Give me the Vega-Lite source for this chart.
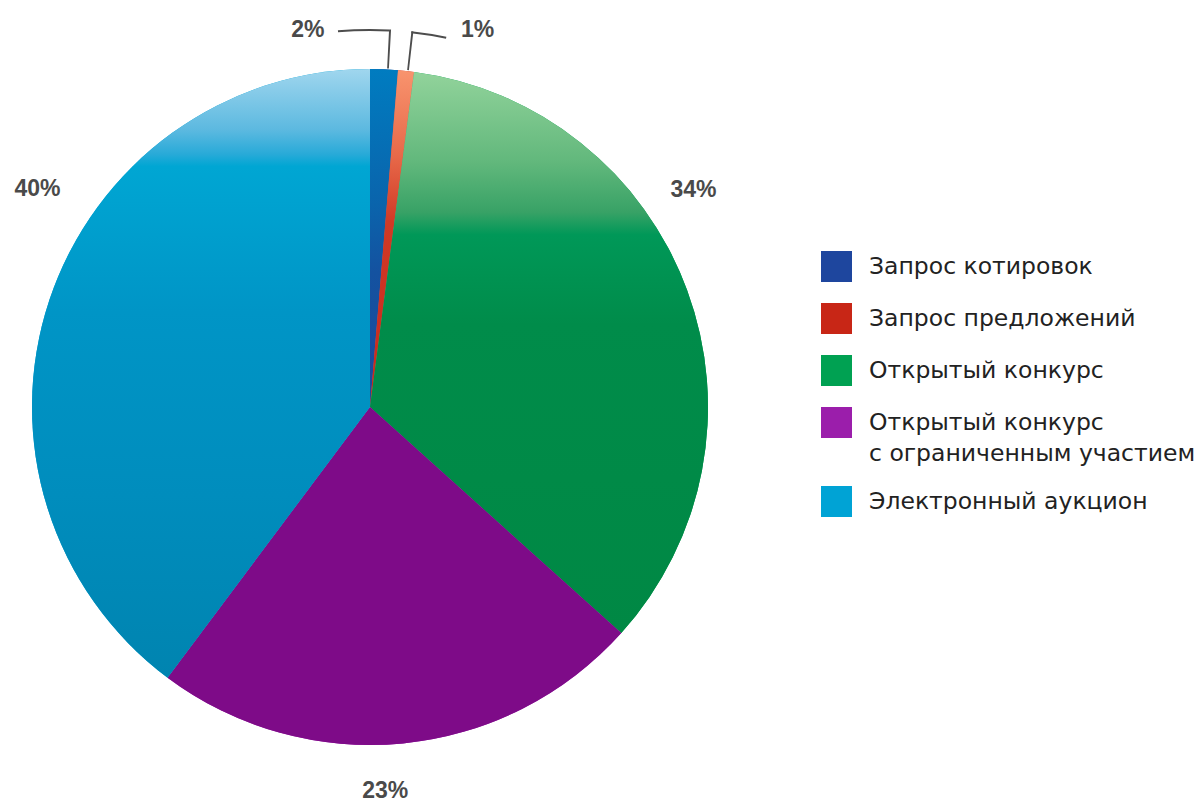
{
  "$schema": "https://vega.github.io/schema/vega-lite/v6.json",
  "width": 740,
  "height": 790,
  "padding": {"top": 12, "left": 0, "right": 0, "bottom": 0},
  "autosize": {"type": "pad"},
  "background": "white",
  "view": {"stroke": null},
  "config": {"style": {"guide-label": {"lineHeight": 31}}},
  "data": {
    "values": [
      {"cat": "Запрос котировок", "value": 1.32, "label": "2%"},
      {"cat": "Запрос предложений", "value": 0.76, "label": "1%"},
      {"cat": "Открытый конкурс", "value": 34.58, "label": "34%"},
      {"cat": "Открытый конкурс с ограниченным участием", "value": 23.56, "label": "23%"},
      {"cat": "Электронный аукцион", "value": 39.78, "label": "40%"}
    ]
  },
  "transform": [
    {"stack": "value", "groupby": [], "as": ["v0", "v1"], "sort": [{"field": "cat", "order": "ascending"}]}
  ],
  "layer": [
    {
      "mark": {"type": "arc", "radius": 338},
      "encoding": {
        "theta": {"field": "v0", "type": "quantitative"},
        "theta2": {"field": "v1"},
        "color": {
          "field": "cat",
          "type": "nominal",
          "scale": {
            "domain": ["Запрос котировок", "Запрос предложений", "Открытый конкурс", "Открытый конкурс с ограниченным участием", "Электронный аукцион"],
            "range": ["#1e469e", "#c82616", "#00a152", "#9b1eab", "#00a3d5"]
          },
          "legend": {
            "title": null,
            "orient": "none",
            "legendX": 821,
            "legendY": 239,
            "symbolType": "square",
            "symbolSize": 961,
            "symbolStrokeWidth": 0,
            "labelFont": "DejaVu Sans",
            "labelFontSize": 23.5,
            "labelColor": "#222222",
            "labelOffset": 17,
            "rowPadding": 21,
            "labelLimit": 400,
            "labelExpr": "datum.label == 'Открытый конкурс с ограниченным участием' ? ['Открытый конкурс', 'с ограниченным участием'] : datum.label"
          }
        }
      }
    },
    {
      "transform": [{"filter": {"field": "cat", "equal": "Запрос котировок"}}],
      "mark": {"type": "arc", "radius": 338, "color": {"gradient": "linear", "x1": 0, "y1": 0, "x2": 0, "y2": 1, "stops": [
        {"offset": 0, "color": "#007cc0"}, {"offset": 0.4, "color": "#0a64ac"}, {"offset": 0.6, "color": "#1452a0"}, {"offset": 1, "color": "#1a4a9c"}]}},
      "encoding": {"theta": {"field": "v0", "type": "quantitative"}, "theta2": {"field": "v1"}}
    },
    {
      "transform": [{"filter": {"field": "cat", "equal": "Запрос предложений"}}],
      "mark": {"type": "arc", "radius": 338, "color": {"gradient": "linear", "x1": 0, "y1": 0, "x2": 0, "y2": 1, "stops": [
        {"offset": 0, "color": "#f8946e"}, {"offset": 0.25, "color": "#e86a4a"}, {"offset": 0.45, "color": "#d03a26"}, {"offset": 1, "color": "#c8261c"}]}},
      "encoding": {"theta": {"field": "v0", "type": "quantitative"}, "theta2": {"field": "v1"}}
    },
    {
      "transform": [{"filter": {"field": "cat", "equal": "Открытый конкурс"}}],
      "mark": {"type": "arc", "radius": 338, "color": {"gradient": "linear", "x1": 0, "y1": 0, "x2": 0, "y2": 1, "stops": [
        {"offset": 0, "color": "#92d39b"}, {"offset": 0.16, "color": "#62b87c"}, {"offset": 0.25, "color": "#38a266"}, {"offset": 0.29, "color": "#009858"}, {"offset": 0.45, "color": "#008c4a"}, {"offset": 1, "color": "#008844"}]}},
      "encoding": {"theta": {"field": "v0", "type": "quantitative"}, "theta2": {"field": "v1"}}
    },
    {
      "transform": [{"filter": {"field": "cat", "equal": "Открытый конкурс с ограниченным участием"}}],
      "mark": {"type": "arc", "radius": 338, "color": "#7e0b88"},
      "encoding": {"theta": {"field": "v0", "type": "quantitative"}, "theta2": {"field": "v1"}}
    },
    {
      "transform": [{"filter": {"field": "cat", "equal": "Электронный аукцион"}}],
      "mark": {"type": "arc", "radius": 338, "color": {"gradient": "linear", "x1": 0, "y1": 0, "x2": 0, "y2": 1, "stops": [
        {"offset": 0, "color": "#a0d6ee"}, {"offset": 0.1, "color": "#5cb9e0"}, {"offset": 0.14, "color": "#28aad8"}, {"offset": 0.16, "color": "#00a6d3"}, {"offset": 0.4, "color": "#0095c6"}, {"offset": 0.7, "color": "#008dbd"}, {"offset": 1, "color": "#0084b0"}]}},
      "encoding": {"theta": {"field": "v0", "type": "quantitative"}, "theta2": {"field": "v1"}}
    },
    {
      "transform": [{"filter": {"field": "cat", "equal": "Запрос котировок"}}],
      "mark": {"type": "arc", "radius": 378, "radius2": 339, "thetaOffset": 0.0505, "theta2Offset": -0.0272, "color": "#4d4d4d"},
      "encoding": {"theta": {"field": "v0", "type": "quantitative"}, "theta2": {"field": "v1"}}
    },
    {
      "transform": [{"filter": {"field": "cat", "equal": "Запрос котировок"}}],
      "mark": {"type": "arc", "radius": 378, "radius2": 376, "thetaOffset": -0.085, "theta2Offset": -0.0324, "color": "#4d4d4d"},
      "encoding": {"theta": {"field": "v0", "type": "quantitative"}, "theta2": {"field": "v1"}}
    },
    {
      "transform": [{"filter": {"field": "cat", "equal": "Запрос предложений"}}],
      "mark": {"type": "arc", "radius": 378, "radius2": 339, "thetaOffset": 0.0269, "theta2Offset": -0.0157, "color": "#4d4d4d"},
      "encoding": {"theta": {"field": "v0", "type": "quantitative"}, "theta2": {"field": "v1"}}
    },
    {
      "transform": [{"filter": {"field": "cat", "equal": "Запрос предложений"}}],
      "mark": {"type": "arc", "radius": 378, "radius2": 376, "thetaOffset": 0.0269, "theta2Offset": 0.0728, "color": "#4d4d4d"},
      "encoding": {"theta": {"field": "v0", "type": "quantitative"}, "theta2": {"field": "v1"}}
    },
    {
      "mark": {
        "type": "text",
        "radius": 380,
        "font": "Liberation Sans",
        "fontSize": 23,
        "fontWeight": "bold",
        "color": "#4a4a4a",
        "align": "center",
        "baseline": "middle",
        "dx": {"expr": "datum.cat == 'Запрос котировок' ? -78 : datum.cat == 'Запрос предложений' ? 67 : datum.cat == 'Открытый конкурс' ? -33 : datum.cat == 'Электронный аукцион' ? 28 : -22"},
        "dy": {"expr": "datum.cat == 'Запрос котировок' ? 3 : datum.cat == 'Запрос предложений' ? 1 : datum.cat == 'Открытый конкурс' ? -85 : datum.cat == 'Электронный аукцион' ? -98 : 6"}
      },
      "encoding": {
        "theta": {"field": "value", "type": "quantitative", "stack": true},
        "order": {"field": "v0", "type": "quantitative"},
        "text": {"field": "label"}
      }
    }
  ]
}
